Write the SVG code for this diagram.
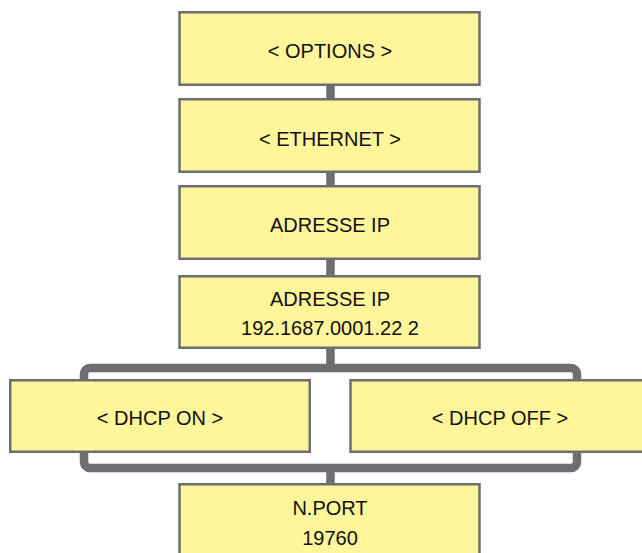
<svg xmlns="http://www.w3.org/2000/svg" width="642" height="553" viewBox="0 0 642 553">
<style>
.box{fill:#fff59a;stroke:#6d6e71;stroke-width:2.5}
.lbl{font-family:"Liberation Sans",Arial,sans-serif;font-size:20px;fill:#111;text-anchor:middle}
.con{fill:none;stroke:#6d6e71;stroke-width:8.5;stroke-linejoin:round}
</style>
<rect width="642" height="553" fill="#fff"/>
<g id="connectors">
<path class="con" d="M330.5 85 V100"/>
<path class="con" d="M330.5 172 V187"/>
<path class="con" d="M330.5 259 V277"/>
<path class="con" d="M330.5 347 V368"/>
<path class="con" d="M84 381 V374 a6 6 0 0 1 6 -6 H571 a6 6 0 0 1 6 6 V381"/>
<path class="con" d="M84 451 V462 a6 6 0 0 0 6 6 H571 a6 6 0 0 0 6 -6 V451"/>
<path class="con" d="M330.5 468 V485"/>
</g>
<g id="options">
<rect class="box" x="179.5" y="12.25" width="300" height="72.5"/>
<text class="lbl" x="330" y="58">&lt; OPTIONS &gt;</text>
</g>
<g id="ethernet">
<rect class="box" x="179.5" y="99.25" width="300" height="72.5"/>
<text class="lbl" x="330" y="146">&lt; ETHERNET &gt;</text>
</g>
<g id="adresse-ip">
<rect class="box" x="179.5" y="186.25" width="300" height="72.5"/>
<text class="lbl" x="330" y="232">ADRESSE IP</text>
</g>
<g id="adresse-ip-value">
<rect class="box" x="179.5" y="276.25" width="300" height="71.5"/>
<text class="lbl" x="330" y="306">ADRESSE IP</text>
<text class="lbl" x="330" y="335">192.1687.0001.22 2</text>
</g>
<g id="dhcp-on">
<rect class="box" x="10.25" y="380.25" width="299.5" height="71.5"/>
<text class="lbl" x="160" y="425">&lt; DHCP ON &gt;</text>
</g>
<g id="dhcp-off">
<rect class="box" x="350.5" y="380.25" width="300" height="71.5"/>
<text class="lbl" x="500" y="425">&lt; DHCP OFF &gt;</text>
</g>
<g id="nport">
<rect class="box" x="179.5" y="484.25" width="300" height="100"/>
<text class="lbl" x="330" y="515">N.PORT</text>
<text class="lbl" x="330" y="545">19760</text>
</g>
</svg>
